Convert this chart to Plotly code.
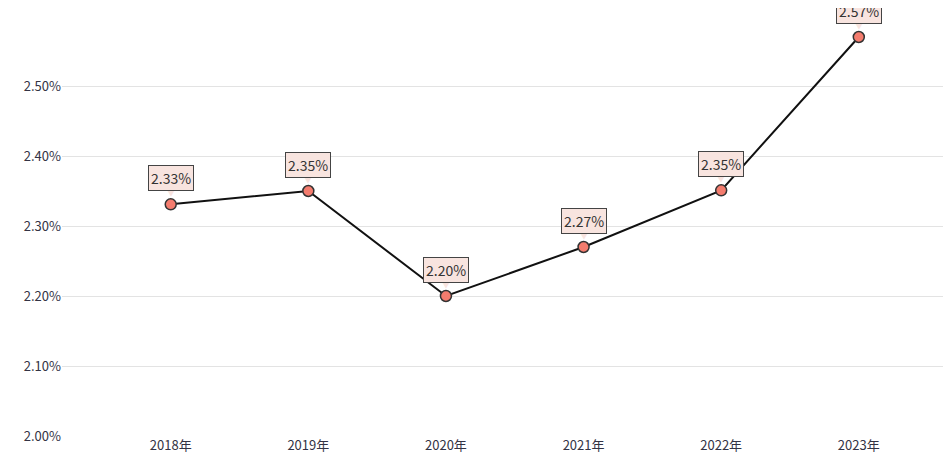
import plotly.graph_objects as go

categories = ["2018年", "2019年", "2020年", "2021年", "2022年", "2023年"]
values = [2.331, 2.35, 2.20, 2.27, 2.351, 2.57]
labels = ["2.33%", "2.35%", "2.20%", "2.27%", "2.35%", "2.57%"]
yticks = [2.0, 2.1, 2.2, 2.3, 2.4, 2.5, 2.6]
yticklabels = ["2.00%", "2.10%", "2.20%", "2.30%", "2.40%", "2.50%", "2.60%"]

xs = list(range(len(categories)))
fig = go.Figure(go.Scatter(
    x=xs, y=values, mode="lines+markers",
    line=dict(color="#111", width=2),
    marker=dict(size=11, color="#f47c6e", line=dict(color="#333", width=1.5)),
    hoverinfo="skip"))

ann = []
for x, v, t in zip(xs, values, labels):
    ann.append(dict(x=x, y=v, text="▼", showarrow=False, yshift=12,
                    font=dict(size=8, color="#f8e4df"), xref="x", yref="y"))
    ann.append(dict(x=x, y=v, text=t, showarrow=False, yshift=26,
                    bgcolor="#f8e4df", bordercolor="#444", borderwidth=1, borderpad=2,
                    font=dict(size=14, color="#333", family="Noto Sans CJK JP"),
                    xref="x", yref="y"))

fig.update_layout(
    width=951, height=467,
    margin=dict(l=54, r=8, t=8, b=39),
    plot_bgcolor="white", paper_bgcolor="white",
    showlegend=False,
    annotations=ann,
    font=dict(family="Noto Sans CJK JP", size=13, color="#334"),
    xaxis=dict(range=[-0.79, 5.67], tickvals=xs, ticktext=categories,
               showgrid=False, zeroline=False, showline=False, ticks=""),
    yaxis=dict(range=[2.0, 2.6], tickvals=yticks, ticktext=yticklabels,
               gridcolor="#e3e3e3", zeroline=False, showline=False, ticks=""),
)
fig.write_html("out.html")
